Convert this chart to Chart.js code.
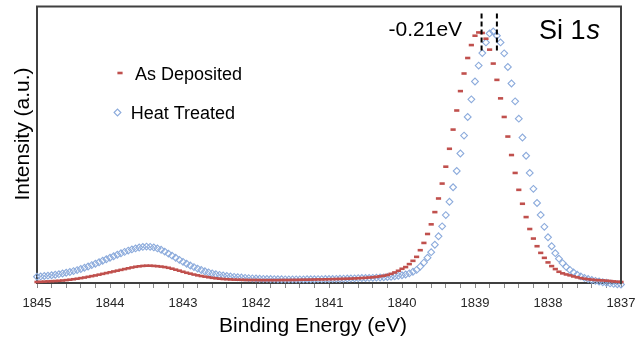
<!DOCTYPE html>
<html>
<head>
<meta charset="utf-8">
<script src="https://cdn.jsdelivr.net/npm/chart.js@4.4.1/dist/chart.umd.min.js"></script>
<style>
html,body{margin:0;padding:0;background:#fff;}
#wrap{width:635px;height:340px;}
</style>
</head>
<body>
<div id="wrap"><canvas id="c" width="635" height="340"></canvas></div>
<script>
// Binding energy (eV), sampled every 0.05 eV
const energies = [
1845.00,1844.95,1844.90,1844.85,1844.80,1844.75,1844.70,1844.65,1844.60,1844.55,
1844.50,1844.45,1844.40,1844.35,1844.30,1844.25,1844.20,1844.15,1844.10,1844.05,
1844.00,1843.95,1843.90,1843.85,1843.80,1843.75,1843.70,1843.65,1843.60,1843.55,
1843.50,1843.45,1843.40,1843.35,1843.30,1843.25,1843.20,1843.15,1843.10,1843.05,
1843.00,1842.95,1842.90,1842.85,1842.80,1842.75,1842.70,1842.65,1842.60,1842.55,
1842.50,1842.45,1842.40,1842.35,1842.30,1842.25,1842.20,1842.15,1842.10,1842.05,
1842.00,1841.95,1841.90,1841.85,1841.80,1841.75,1841.70,1841.65,1841.60,1841.55,
1841.50,1841.45,1841.40,1841.35,1841.30,1841.25,1841.20,1841.15,1841.10,1841.05,
1841.00,1840.95,1840.90,1840.85,1840.80,1840.75,1840.70,1840.65,1840.60,1840.55,
1840.50,1840.45,1840.40,1840.35,1840.30,1840.25,1840.20,1840.15,1840.10,1840.05,
1840.00,1839.95,1839.90,1839.85,1839.80,1839.75,1839.70,1839.65,1839.60,1839.55,
1839.50,1839.45,1839.40,1839.35,1839.30,1839.25,1839.20,1839.15,1839.10,1839.05,
1839.00,1838.95,1838.90,1838.85,1838.80,1838.75,1838.70,1838.65,1838.60,1838.55,
1838.50,1838.45,1838.40,1838.35,1838.30,1838.25,1838.20,1838.15,1838.10,1838.05,
1838.00,1837.95,1837.90,1837.85,1837.80,1837.75,1837.70,1837.65,1837.60,1837.55,
1837.50,1837.45,1837.40,1837.35,1837.30,1837.25,1837.20,1837.15,1837.10,1837.05,
1837.00
];

// Intensity (a.u.), As Deposited
const asDeposited = [
1.0,1.2,1.4,1.6,1.8,2.0,2.2,2.5,2.9,3.3,
3.8,4.3,4.9,5.5,6.2,6.9,7.6,8.4,9.2,10.0,
10.8,11.6,12.4,13.2,14.0,14.8,15.6,16.3,16.8,17.2,
17.4,17.4,17.2,16.9,16.5,16.0,15.3,14.4,13.4,12.4,
11.3,10.3,9.4,8.5,7.7,7.0,6.4,5.8,5.2,4.7,
4.3,4.0,3.8,3.6,3.4,3.3,3.2,3.1,3.0,3.0,
3.0,2.9,2.9,2.9,2.9,2.9,2.9,3.0,3.0,3.0,
3.1,3.1,3.2,3.3,3.3,3.4,3.5,3.6,3.6,3.7,
3.8,3.9,4.0,4.1,4.2,4.3,4.4,4.6,4.8,5.0,
5.2,5.5,5.8,6.2,6.7,7.3,8.1,9.2,10.6,12.3,
14.3,16.0,19.0,22.3,26.3,33.0,40.3,49.3,59.0,71.3,
85.0,100.0,117.0,135.0,154.3,173.5,193.0,210.7,226.3,239.3,
248.7,252.0,251.5,245.7,234.7,220.7,204.3,185.7,167.0,147.3,
128.7,110.7,93.7,79.7,66.3,54.3,44.7,37.0,30.3,25.3,
20.7,17.0,14.0,11.3,9.7,8.6,7.7,6.6,5.7,4.9,
4.3,3.8,3.4,3.0,2.8,2.6,2.3,2.0,1.6,1.3,
1.0
];

// Intensity (a.u.), Heat Treated
const heatTreated = [
6.3,6.6,7.0,7.4,7.8,8.3,8.9,9.6,10.3,11.1,
12.0,13.0,14.1,15.3,16.6,18.0,19.4,20.9,22.4,23.9,
25.4,26.9,28.4,29.9,31.3,32.6,33.8,34.8,35.7,36.3,
36.6,36.4,35.8,34.8,33.4,31.6,29.6,27.5,25.4,23.3,
21.3,19.4,17.6,16.0,14.5,13.1,11.8,10.7,9.7,8.9,
8.2,7.6,7.1,6.6,6.2,5.8,5.5,5.2,4.9,4.7,
4.5,4.3,4.2,4.1,4.0,3.9,3.8,3.8,3.7,3.7,
3.7,3.7,3.7,3.7,3.8,3.8,3.8,3.9,3.9,4.0,
4.0,4.1,4.2,4.3,4.4,4.5,4.6,4.7,4.9,5.0,
5.0,5.1,5.2,5.4,5.5,5.7,6.0,6.3,6.7,7.2,
7.8,8.6,9.7,11.3,13.2,16.5,20.5,25.5,31.0,38.5,
47.0,57.0,68.3,81.7,96.3,112.7,130.3,148.3,167.0,184.7,
202.7,218.7,231.3,242.0,251.0,253.0,248.7,242.0,231.0,217.3,
200.7,182.7,165.3,146.3,128.0,110.7,94.7,80.5,68.5,56.5,
46.0,37.0,30.0,24.5,20.0,16.2,13.2,10.6,8.4,6.6,
5.1,4.0,3.0,2.2,1.5,0.8,0.2,-0.4,-0.9,-1.3,
-1.6
];

const seriesNames = ['As Deposited', 'Heat Treated'];
const xTickLabels = [1845, 1844, 1843, 1842, 1841, 1840, 1839, 1838, 1837];
const xTitle = 'Binding Energy (eV)';
const yTitle = 'Intensity (a.u.)';
const peakPositions = [1838.91, 1838.70];   // As Deposited, Heat Treated peak maxima
const shiftLabel = '-0.21eV';
const panelLabel = ['Si 1', 's'];

const FONT = '"Liberation Sans", Arial, sans-serif';
const RED = '#c0504d';
const BLUE = '#8cabdc';

const decor = {
  id: 'decor',
  afterDraw(chart) {
    const { ctx, chartArea: a, scales: { x, y } } = chart;
    ctx.save();
    // top & right frame
    ctx.strokeStyle = '#404040';
    ctx.lineWidth = 2;
    ctx.beginPath();
    ctx.moveTo(a.left - 1, a.top);
    ctx.lineTo(a.right, a.top);
    ctx.lineTo(a.right, a.bottom + 1);
    ctx.stroke();

    // axis titles
    ctx.fillStyle = '#000';
    ctx.font = '21px ' + FONT;
    ctx.textAlign = 'center';
    ctx.textBaseline = 'alphabetic';
    ctx.fillText(xTitle, 313, 331.5);
    ctx.save();
    ctx.translate(29, 134);
    ctx.rotate(-Math.PI / 2);
    ctx.fillText(yTitle, 0, 0);
    ctx.restore();

    // legend
    ctx.font = '18px ' + FONT;
    ctx.textAlign = 'left';
    ctx.strokeStyle = RED;
    ctx.lineWidth = 2.6;
    ctx.beginPath();
    ctx.moveTo(117.4, 73);
    ctx.lineTo(122.6, 73);
    ctx.stroke();
    ctx.fillText(seriesNames[0], 135, 80);
    ctx.strokeStyle = BLUE;
    ctx.lineWidth = 1.1;
    ctx.beginPath();
    ctx.moveTo(114.1, 112.5);
    ctx.lineTo(117.5, 109.1);
    ctx.lineTo(120.9, 112.5);
    ctx.lineTo(117.5, 115.9);
    ctx.closePath();
    ctx.stroke();
    ctx.fillText(seriesNames[1], 130.7, 119);

    // peak-shift markers (dashed lines through the scales)
    ctx.strokeStyle = '#000';
    ctx.lineWidth = 2;
    ctx.setLineDash([5, 3]);
    peakPositions.forEach(p => {
      const px = x.getPixelForValue(p);
      ctx.beginPath();
      ctx.moveTo(px, y.getPixelForValue(271));
      ctx.lineTo(px, y.getPixelForValue(231));
      ctx.stroke();
    });
    ctx.setLineDash([]);

    ctx.font = '21px ' + FONT;
    ctx.textAlign = 'right';
    ctx.fillText(shiftLabel, x.getPixelForValue(peakPositions[0]) - 19.5, 36);

    ctx.textAlign = 'left';
    ctx.font = '27px ' + FONT;
    const sx = 539;
    ctx.fillText(panelLabel[0], sx, 39);
    const w = ctx.measureText(panelLabel[0]).width;
    ctx.font = 'italic 27px ' + FONT;
    ctx.fillText(panelLabel[1], sx + w + 1, 39);
    ctx.restore();
  }
};

new Chart(document.getElementById('c'), {
  type: 'scatter',
  data: {
    datasets: [
      {
        label: seriesNames[0],
        data: energies.map((e, i) => ({ x: e, y: asDeposited[i] })),
        showLine: false,
        pointStyle: 'line',
        pointRadius: 2.6,
        pointBorderWidth: 2.6,
        pointBorderColor: RED,
        pointBackgroundColor: RED,
        order: 0,
        clip: false
      },
      {
        label: seriesNames[1],
        data: energies.map((e, i) => ({ x: e, y: heatTreated[i] })),
        showLine: false,
        pointStyle: 'rectRot',
        pointRadius: 3.4,
        pointBorderWidth: 1.1,
        pointBorderColor: BLUE,
        pointBackgroundColor: 'rgba(255,255,255,0)',
        order: 1,
        clip: false
      }
    ]
  },
  options: {
    responsive: false,
    devicePixelRatio: 1,
    animation: false,
    events: [],
    layout: { padding: { left: 0, top: 5, right: 14, bottom: 0 } },
    plugins: { legend: { display: false }, tooltip: { enabled: false }, title: { display: false } },
    scales: {
      x: {
        type: 'linear',
        reverse: true,
        min: 1837,
        max: 1845,
        afterFit: s => { s.height = 57; s.paddingLeft = 0; s.paddingRight = 0; },
        border: { display: true, color: '#404040', width: 2 },
        grid: { display: true, drawOnChartArea: false, drawTicks: true, tickLength: 5, color: '#8a8a8a', lineWidth: 1 },
        ticks: {
          stepSize: 0.2,
          autoSkip: false,
          maxRotation: 0,
          padding: 8,
          color: '#262626',
          font: { family: FONT, size: 13 },
          callback: v => {
            const r = Math.round(v);
            return (Math.abs(v - r) < 1e-6 && xTickLabels.includes(r)) ? String(r) : '';
          }
        }
      },
      y: {
        min: 0,
        max: 278,
        afterFit: s => { s.width = 37; s.paddingTop = 0; s.paddingBottom = 0; },
        ticks: { display: false },
        grid: { display: false },
        border: { display: true, color: '#404040', width: 2 }
      }
    }
  },
  plugins: [decor]
});
</script>
</body>
</html>
